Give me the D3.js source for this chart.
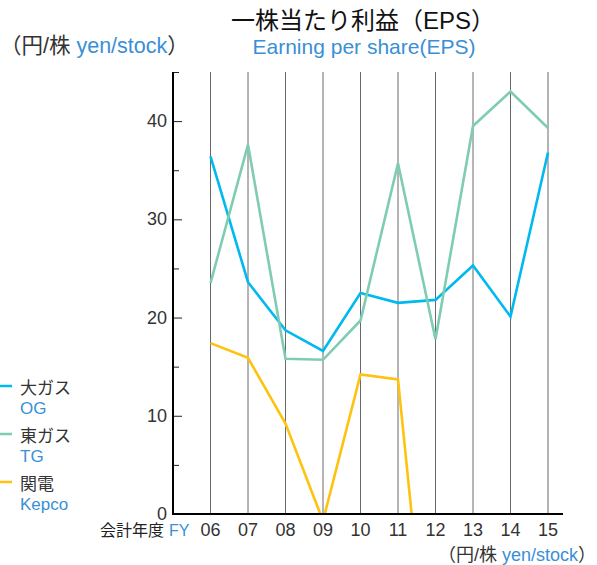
<!DOCTYPE html>
<html>
<head>
<meta charset="utf-8">
<script src="https://cdn.jsdelivr.net/npm/d3@7"></script>
<style>
  body { margin: 0; background: #fff; }
  svg { display: block; font-family: "Liberation Sans", "Noto Sans CJK JP", sans-serif; }
</style>
</head>
<body>
<svg id="chart"></svg>
<script>
const years = ['06', '07', '08', '09', '10', '11', '12', '13', '14', '15'];
const og = [36.4, 23.6, 18.7, 16.6, 22.5, 21.5, 21.8, 25.3, 20.1, 36.8];
const tg = [23.5, 37.6, 15.8, 15.7, 19.7, 35.7, 17.8, 39.5, 43.0, 39.3];
const kepco = [17.4, 15.9, 9.2, -0.7, 14.2, 13.7, -24];
const yTicks = [0, 10, 20, 30, 40];

const series = [
  {ja: '大ガス', en: 'OG', color: '#00b9ef', values: og},
  {ja: '東ガス', en: 'TG', color: '#7fcdb1', values: tg},
  {ja: '関電', en: 'Kepco', color: '#ffc20e', values: kepco}
];

const width = 597, height = 565;
const blue = '#3a8fd6', ink = '#333';

const svg = d3.select('#chart')
  .attr('width', width)
  .attr('height', height);

const x = d3.scalePoint().domain(years).range([210.5, 548]);
const y = d3.scaleLinear().domain([0, 45]).range([514, 72]);

// clip so the negative parts disappear under the axis
svg.append('clipPath').attr('id', 'plot')
  .append('rect').attr('x', 172).attr('y', 60).attr('width', 392).attr('height', 454);

// vertical grid at each year
svg.append('g')
  .selectAll('line')
  .data(years)
  .join('line')
  .attr('x1', d => x(d)).attr('x2', d => x(d))
  .attr('y1', y(45)).attr('y2', y(0))
  .attr('stroke', '#6a6a6a')
  .attr('stroke-width', 1);

const line = d3.line()
  .x((d, i) => x(years[i]))
  .y(d => y(d));

svg.append('g')
  .attr('clip-path', 'url(#plot)')
  .selectAll('path')
  .data(series)
  .join('path')
  .attr('d', d => line(d.values))
  .attr('fill', 'none')
  .attr('stroke', d => d.color)
  .attr('stroke-width', 2.6)
  .attr('stroke-linejoin', 'miter');

// y axis, ticks pointing inward
const yAxis = svg.append('g').attr('transform', 'translate(173,0)');
yAxis.call(d3.axisRight(y).tickValues(d3.range(0, 46, 5)).tickSize(8).tickFormat(''))
  .call(g => g.select('.domain').remove())
  .call(g => g.selectAll('.tick line')
    .attr('stroke', '#222')
    .attr('x2', d => d % 10 === 0 ? 9 : 6));
yAxis.append('line')
  .attr('y1', y(45)).attr('y2', y(0) + 1)
  .attr('stroke', '#000').attr('stroke-width', 2);
yAxis.selectAll('text.lab')
  .data(yTicks)
  .join('text')
  .attr('class', 'lab')
  .attr('x', -6)
  .attr('y', d => y(d) + 6)
  .attr('text-anchor', 'end')
  .attr('font-size', 18)
  .attr('fill', ink)
  .text(d => d);

// x axis
svg.append('line')
  .attr('x1', 172).attr('x2', 563)
  .attr('y1', y(0)).attr('y2', y(0))
  .attr('stroke', '#000').attr('stroke-width', 2);

svg.append('g')
  .selectAll('text')
  .data(years)
  .join('text')
  .attr('x', d => x(d))
  .attr('y', 536)
  .attr('text-anchor', 'middle')
  .attr('font-size', 18)
  .attr('fill', ink)
  .text(d => d);

const fy = svg.append('text').attr('x', 100).attr('y', 536).attr('font-size', 16);
fy.append('tspan').attr('fill', '#222').text('会計年度');
fy.append('tspan').attr('fill', blue).attr('dx', 5).text('FY');

// unit labels
function unit(xPos, yPos, anchor, size) {
  const t = svg.append('text')
    .attr('x', xPos).attr('y', yPos)
    .attr('text-anchor', anchor)
    .attr('font-size', size);
  t.append('tspan').attr('fill', ink).text('（円/株 ');
  t.append('tspan').attr('fill', blue).text('yen/stock');
  t.append('tspan').attr('fill', ink).text('）');
}
unit(0, 53, 'start', 21.5);
unit(596, 561, 'end', 18);

// titles
svg.append('text')
  .attr('x', 363).attr('y', 29)
  .attr('text-anchor', 'middle')
  .attr('font-size', 24)
  .attr('fill', '#111')
  .text('一株当たり利益（EPS）');
svg.append('text')
  .attr('x', 364).attr('y', 54)
  .attr('text-anchor', 'middle')
  .attr('font-size', 21)
  .attr('fill', blue)
  .text('Earning per share(EPS)');

// legend
const legend = svg.append('g')
  .selectAll('g')
  .data(series)
  .join('g')
  .attr('transform', (d, i) => `translate(0,${386 + i * 48})`);
legend.append('line')
  .attr('x1', 0).attr('x2', 12)
  .attr('stroke', d => d.color).attr('stroke-width', 2.5);
legend.append('text')
  .attr('x', 20).attr('y', 8)
  .attr('font-size', 17)
  .attr('fill', ink)
  .text(d => d.ja);
legend.append('text')
  .attr('x', 20).attr('y', 28)
  .attr('font-size', 17)
  .attr('fill', blue)
  .text(d => d.en);
</script>
</body>
</html>
